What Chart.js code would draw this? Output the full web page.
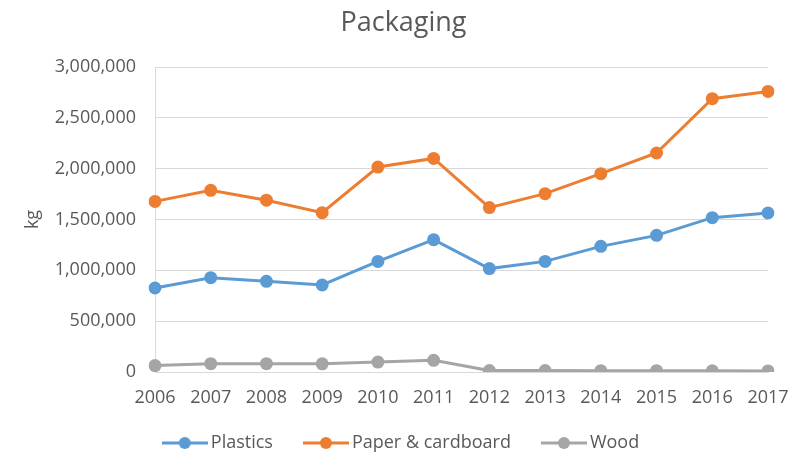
<!DOCTYPE html>
<html>
<head>
<meta charset="utf-8">
<script src="https://cdn.jsdelivr.net/npm/chart.js@4"></script>
<style>
  html, body { margin: 0; padding: 0; background: #fff; }
  #wrap { width: 807px; height: 452px; }
</style>
</head>
<body>
<div id="wrap"><canvas id="grafico"></canvas></div>
<script>
// Datos
const years = ['2006', '2007', '2008', '2009', '2010', '2011', '2012', '2013', '2014', '2015', '2016', '2017'];
const plastics = [826000, 928000, 892000, 856000, 1088000, 1302000, 1017000, 1088000, 1236000, 1344000, 1518000, 1564000];
const paper = [1678000, 1787000, 1690000, 1567000, 2016000, 2101000, 1617000, 1754000, 1951000, 2154000, 2688000, 2760000];
const wood = [63000, 82000, 82000, 80000, 98000, 115000, 14000, 14000, 13000, 13000, 12000, 11000];
const yTicks = [0, 500000, 1000000, 1500000, 2000000, 2500000, 3000000];

const colores = ['#5B9BD5', '#ED7D31', '#A5A5A5'];
const fuente = "'Open Sans', 'Liberation Sans', sans-serif";
const gris = '#595959';

// Icono de leyenda: línea con círculo
function iconoLeyenda(color) {
    let c = document.createElement('canvas');
    c.width = 46; c.height = 14;
    let ctx = c.getContext('2d');
    ctx.strokeStyle = color;
    ctx.lineWidth = 3;
    ctx.beginPath();
    ctx.moveTo(0, 7); ctx.lineTo(46, 7);
    ctx.stroke();
    ctx.fillStyle = color;
    ctx.beginPath();
    ctx.arc(23, 7, 6, 0, Math.PI * 2);
    ctx.fill();
    return c;
}

function serie(label, data, color) {
    return {
        label: label,
        data: data,
        borderColor: color,
        backgroundColor: color,
        borderWidth: 3,
        pointRadius: 6.5,
        pointHoverRadius: 6.5,
        pointBorderWidth: 0,
        tension: 0,
        fill: false
    };
}

// Leyenda con altura fija; título y leyenda centrados en todo el lienzo
const ajusteLeyenda = {
    id: 'ajusteLeyenda',
    beforeUpdate(chart) {
        let leg = chart.legend;
        if (leg && !leg._parcheado) {
            let fitOrig = leg.fit;
            leg.fit = function() { fitOrig.call(this); this.height = 45; };
            leg._parcheado = true;
        }
    },
    afterLayout(chart) {
        [chart.legend, chart.titleBlock].forEach(function(b) {
            if (!b) return;
            b.left = 0;
            b.right = chart.width;
            b.width = chart.width;
        });
        if (chart.legend) {
            chart.legend.top = chart.height - 54;
            chart.legend.bottom = chart.height;
            chart.legend.height = 54;
        }
    }
};

new Chart(document.getElementById('grafico'), {
    type: 'line',
    data: {
        labels: years,
        datasets: [
            serie('Plastics', plastics, colores[0]),
            serie('Paper & cardboard', paper, colores[1]),
            serie('Wood', wood, colores[2])
        ]
    },
    plugins: [ajusteLeyenda],
    options: {
        responsive: true,
        maintainAspectRatio: false,
        animation: false,
        layout: { padding: { left: 10, right: 39, top: 7, bottom: 0 } },
        plugins: {
            title: {
                display: true,
                text: 'Packaging',
                color: gris,
                font: { family: fuente, size: 27, weight: 'normal' },
                padding: { top: 0, bottom: 27.6 }
            },
            legend: {
                position: 'bottom',
                labels: {
                    color: gris,
                    font: { family: fuente, size: 18 },
                    usePointStyle: true,
                    pointStyleWidth: 34,
                    boxHeight: 14,
                    padding: 36,
                    generateLabels: function(chart) {
                        return chart.data.datasets.map(function(ds, i) {
                            return {
                                text: ds.label,
                                fillStyle: ds.borderColor,
                                strokeStyle: ds.borderColor,
                                pointStyle: iconoLeyenda(ds.borderColor),
                                fontColor: gris,
                                hidden: false,
                                datasetIndex: i
                            };
                        });
                    }
                }
            },
            tooltip: { enabled: false }
        },
        scales: {
            x: {
                offset: false,
                afterFit: function(scale) { scale.height = 35; },
                grid: { display: false, drawTicks: false },
                border: { display: true, color: '#d9d9d9', width: 1 },
                ticks: {
                    color: gris,
                    font: { family: fuente, size: 18 },
                    padding: 15,
                    maxRotation: 0,
                    autoSkip: false
                }
            },
            y: {
                min: 0,
                max: 3000000,
                afterBuildTicks: function(scale) {
                    scale.ticks = yTicks.map(v => ({ value: v }));
                },
                afterFit: function(scale) { scale.width = 145; },
                grid: { color: '#d9d9d9', lineWidth: 1, drawTicks: false },
                border: { display: true, color: '#d9d9d9', width: 1 },
                ticks: {
                    color: gris,
                    font: { family: fuente, size: 18 },
                    padding: 19,
                    callback: v => v.toLocaleString('en-US')
                },
                title: {
                    display: true,
                    text: 'kg',
                    color: gris,
                    font: { family: fuente, size: 18 },
                    padding: { top: 12, bottom: 6 }
                }
            }
        }
    }
});
</script>
</body>
</html>
